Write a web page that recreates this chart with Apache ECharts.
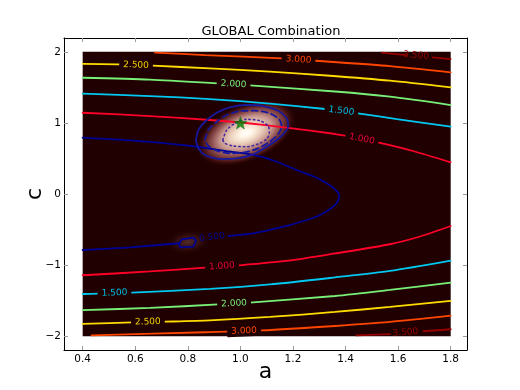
<!DOCTYPE html>
<html><head><meta charset="utf-8">
<script src="https://cdn.jsdelivr.net/npm/echarts@6/dist/echarts.min.js"></script>
<style>html,body{margin:0;padding:0;background:#fff}#c{width:520px;height:390px}</style>
</head><body><div id="c"></div>
<script>
// ---------------- data ----------------
const aTicks = [0.4, 0.6, 0.8, 1.0, 1.2, 1.4, 1.6, 1.8];
const cTicks = [-2, -1, 0, 1, 2];
const imageA = [0.4, 1.8];
const imageC = [-2, 2];

// contour levels, each a polyline of [a, c]
const lvl35TopL = [[1.538,1.99],[1.630,1.955]];
const lvl35TopR = [[1.732,1.923],[1.8,1.899]];
const lvl35BotL = [[1.441,-1.99],[1.569,-1.973]];
const lvl35BotR = [[1.696,-1.931],[1.8,-1.903]];
const lvl30Top = [[0.675,1.99],[0.865,1.955],[1.157,1.909],[1.284,1.875],[1.569,1.800],[1.8,1.712]];
const lvl30Bot = [[0.434,-1.99],[0.865,-1.945],[1.081,-1.920],[1.360,-1.857],[1.569,-1.800],[1.8,-1.712]];
const lvl25Top = [[0.4,1.831],[0.542,1.824],[0.667,1.805],[0.884,1.768],[1.112,1.723],[1.341,1.664],[1.569,1.594],[1.8,1.501]];
const lvl25Bot = [[0.4,-1.826],[0.588,-1.807],[0.713,-1.797],[0.884,-1.779],[1.112,-1.730],[1.360,-1.660],[1.569,-1.589],[1.8,-1.505]];
const lvl20Top = [[0.4,1.636],[0.656,1.610],[0.915,1.557],[1.036,1.529],[1.360,1.442],[1.569,1.369],[1.8,1.252]];
const lvl20Bot = [[0.4,-1.634],[0.656,-1.603],[0.915,-1.554],[1.036,-1.529],[1.360,-1.435],[1.569,-1.350],[1.8,-1.248]];
const lvl15Top = [[0.4,1.411],[0.656,1.378],[0.884,1.336],[1.112,1.273],[1.322,1.196],[1.447,1.135],[1.595,1.055],[1.8,0.947]];
const lvl15Bot = [[0.4,-1.407],[0.458,-1.402],[0.588,-1.388],[0.884,-1.336],[1.112,-1.273],[1.360,-1.174],[1.569,-1.083],[1.8,-0.938]];
const lvl10Top = [[0.4,1.143],[0.656,1.097],[0.884,1.041],[1.002,1.006],[1.189,0.928],[1.360,0.844],[1.398,0.820],[1.527,0.722],[1.656,0.605],[1.8,0.446]];
const lvl10Bot = [[0.4,-1.143],[0.656,-1.090],[0.865,-1.037],[0.998,-1.003],[1.189,-0.935],[1.360,-0.837],[1.569,-0.707],[1.683,-0.598],[1.8,-0.450]];
const lvl05Main = [[0.4,0.792],[0.643,0.736],[0.834,0.665],[0.941,0.605],[1.049,0.549],[1.131,0.464],[1.214,0.338],[1.284,0.239],[1.328,0.150],[1.363,0.056],[1.376,-0.028],[1.366,-0.131],[1.341,-0.211],[1.303,-0.295],[1.246,-0.373],[1.176,-0.450],[1.112,-0.506],[1.049,-0.553],[0.954,-0.591]];
const lvl05Tail = [[0.767,-0.693],[0.580,-0.750],[0.4,-0.788]];
const lvl05Island = [[0.767,-0.693],[0.777,-0.637],[0.821,-0.615],[0.831,-0.657],[0.821,-0.741],[0.770,-0.750],[0.767,-0.693]];

// likelihood blob contours (closed)
const blobOuter = [[0.831,0.760],[0.840,0.900],[0.865,1.017],[0.910,1.143],[0.960,1.219],[1.024,1.252],[1.087,1.238],[1.144,1.172],[1.176,1.065],[1.182,0.947],[1.166,0.854],[1.138,0.760],[1.100,0.665],[1.049,0.558],[0.986,0.502],[0.922,0.492],[0.865,0.549],[0.840,0.643],[0.831,0.760]];
const blobMiddle = [[0.865,0.760],[0.878,0.900],[0.910,1.017],[0.948,1.111],[0.998,1.167],[1.055,1.172],[1.112,1.135],[1.148,1.051],[1.157,0.947],[1.144,0.844],[1.112,0.736],[1.068,0.643],[1.017,0.587],[0.960,0.572],[0.910,0.609],[0.878,0.675],[0.865,0.760]];
const blobInner = [[0.933,0.760],[0.948,0.900],[0.979,0.994],[1.024,1.051],[1.074,1.031],[1.106,0.956],[1.110,0.862],[1.102,0.783],[1.074,0.713],[1.024,0.665],[0.973,0.675],[0.941,0.713],[0.933,0.760]];

// glow peaks
const glowA = [1.021, 0.801];
const glowC = [0.858, -0.675];

// best-fit star
const starPoint = [[1.0, 1.0]];

// contour labels
const labelText = ['3.500','3.500','3.000','3.000','2.500','2.500','2.000','2.000','1.500','1.500','1.000','1.000','0.500'];
const labelA = [1.668,1.628,1.221,1.014,0.603,0.648,0.974,0.976,1.384,0.521,1.462,0.930,0.892];
const labelC = [1.948,-1.948,1.889,-1.927,1.814,-1.800,1.544,-1.540,1.167,-1.392,0.774,-1.017,-0.609];

// ---------------- styles ----------------
const FONT = 'DejaVu Sans';
const BG = '#200000';
const levelColor = {'0.500':'#000096','1.000':'#ff0028','1.500':'#00c8f0','2.000':'#78f078','2.500':'#ffdc00','3.000':'#ff4600','3.500':'#960000'};
const labelColor = {'0.500':'#000096','1.000':'#e8003c','1.500':'#00bce6','2.000':'#78f078','2.500':'#f0d000','3.000':'#ff4600','3.500':'#960000'};
const labelAngle = [-5.3,4.5,-4.2,2.5,-2.4,1.5,-3.6,3.2,-7.4,1.7,-11.6,4,7];
const labelNoBg = {'0.500':true, '3.500':true};
const glowRx = [54, 24], glowRy = [29, 13], glowRot = [23, 5];
const glowStops = [
  [{offset:0,color:'#ffffff'},{offset:0.12,color:'#fff6e8'},{offset:0.3,color:'#ecd2be'},{offset:0.5,color:'#c89890'},{offset:0.68,color:'#8a4a4a'},{offset:0.84,color:'#4a1414'},{offset:1,color:'rgba(32,0,0,0)'}],
  [{offset:0,color:'rgba(85,45,45,0.95)'},{offset:0.5,color:'rgba(60,22,22,0.7)'},{offset:1,color:'rgba(32,0,0,0)'}]
];

const chart = echarts.init(document.getElementById('c'), null, {renderer:'canvas'});

function line(data, color, width, type, z) {
  return {type:'line', data, showSymbol:false, symbol:'none', smooth:0.25, silent:true,
    animation:false, z:z||3, lineStyle:{color, width, type:type||'solid', cap:'round'}};
}
const minusFmt = v => (v < 0 ? '\u2212' + (-v) : String(v));

function axisCommon(extra) {
  return Object.assign({
    type:'value', splitLine:{show:false},
    axisLine:{show:true, onZero:false, lineStyle:{color:'#000', width:1}},
  }, extra);
}

const option = {
  animation:false,
  backgroundColor:'#ffffff',
  title:{text:'GLOBAL Combination', left:266, top:20, textAlign:'center',
    textStyle:{fontFamily:FONT, fontSize:13, fontWeight:'normal', color:'#000'}},
  grid:{left:64, top:38, right:53, bottom:40, containLabel:false, outerBoundsMode:'none'},
  xAxis:[
    axisCommon({position:'bottom', min:0.329, max:1.862,
      name:'a', nameLocation:'middle', nameGap:11, nameMoveOverlap:false,
      nameTextStyle:{fontFamily:FONT, fontSize:22, color:'#000'},
      axisTick:{show:true, inside:true, length:4, customValues:aTicks, lineStyle:{color:'#999'}},
      axisLabel:{show:true, customValues:aTicks, margin:4, formatter:v=>v.toFixed(1),
        fontFamily:FONT, fontSize:10.5, color:'#000'}}),
    axisCommon({position:'top', min:0.329, max:1.862,
      axisTick:{show:true, inside:true, length:4, customValues:aTicks, lineStyle:{color:'#999'}},
      axisLabel:{show:false}})
  ],
  yAxis:[
    axisCommon({position:'left', min:-2.195, max:2.195,
      name:'c', nameLocation:'middle', nameGap:18, nameRotate:90, nameMoveOverlap:false,
      nameTextStyle:{fontFamily:FONT, fontSize:22, color:'#000'},
      axisTick:{show:true, inside:true, length:4, customValues:cTicks, lineStyle:{color:'#999'}},
      axisLabel:{show:true, customValues:cTicks, margin:3, formatter:minusFmt,
        fontFamily:FONT, fontSize:10.5, color:'#000'}}),
    axisCommon({position:'right', min:-2.195, max:2.195,
      axisTick:{show:true, inside:true, length:4, customValues:cTicks, lineStyle:{color:'#999'}},
      axisLabel:{show:false}})
  ],
  series:[
    {type:'custom', z:0, silent:true, data:[[imageA[0], imageC[0]]],
      renderItem:(params, api) => {
        const p0 = api.coord([imageA[0], imageC[1]]);
        const p1 = api.coord([imageA[1], imageC[0]]);
        return {type:'rect', shape:{x:p0[0], y:p0[1], width:p1[0]-p0[0], height:p1[1]-p0[1]}, style:{fill:BG}};
      }},
    {type:'custom', z:1, silent:true, data:glowA.map((a,i)=>[a, glowC[i]]),
      renderItem:(params, api) => {
        const i = params.dataIndex;
        const p = api.coord([api.value(0), api.value(1)]);
        return {type:'circle', x:p[0], y:p[1], rotation:glowRot[i]*Math.PI/180,
          scaleX:glowRx[i]/glowRy[i], scaleY:1,
          shape:{cx:0, cy:0, r:glowRy[i]},
          style:{fill:{type:'radial', x:0.5, y:0.5, r:0.5, colorStops:glowStops[i]}}};
      }},
    line(lvl35TopL, levelColor['3.500'], 1.8),
    line(lvl35TopR, levelColor['3.500'], 1.8),
    line(lvl35BotL, levelColor['3.500'], 1.8),
    line(lvl35BotR, levelColor['3.500'], 1.8),
    line(lvl30Top, levelColor['3.000'], 1.8),
    line(lvl30Bot, levelColor['3.000'], 1.8),
    line(lvl25Top, levelColor['2.500'], 1.8),
    line(lvl25Bot, levelColor['2.500'], 1.8),
    line(lvl20Top, levelColor['2.000'], 1.8),
    line(lvl20Bot, levelColor['2.000'], 1.8),
    line(lvl15Top, levelColor['1.500'], 1.8),
    line(lvl15Bot, levelColor['1.500'], 1.8),
    line(lvl10Top, levelColor['1.000'], 1.8),
    line(lvl10Bot, levelColor['1.000'], 1.8),
    line(lvl05Main, levelColor['0.500'], 1.8),
    line(lvl05Tail, levelColor['0.500'], 1.8),
    Object.assign(line(lvl05Island, levelColor['0.500'], 1.8), {smooth:false}),
    line(blobOuter, '#18189e', 1.8, 'solid', 4),
    line(blobMiddle, '#18189e', 1.8, [6, 4], 4),
    line(blobInner, '#4a2aa0', 1.6, [1.5, 3], 4),
    {type:'custom', z:5, silent:true, data:labelA.map((a,i)=>[a, labelC[i]]),
      renderItem:(params, api) => {
        const i = params.dataIndex;
        const p = api.coord([api.value(0), api.value(1)]);
        const t = labelText[i];
        return {type:'text', x:p[0], y:p[1], rotation:labelAngle[i]*Math.PI/180,
          style:{text:t, fill:labelColor[t], fontFamily:FONT, fontSize:9,
            align:'center', verticalAlign:'middle',
            backgroundColor: labelNoBg[t] ? null : BG, padding:[1,4]}};
      }},
    {type:'scatter', z:6, silent:true, data:starPoint, symbolSize:13,
      symbol:'path://M0,-10 L2.35,-3.24 L9.51,-3.09 L3.8,1.24 L5.88,8.09 L0,4 L-5.88,8.09 L-3.8,1.24 L-9.51,-3.09 L-2.35,-3.24 Z',
      symbolKeepAspect:true, itemStyle:{color:'#008000', borderColor:'#006000', borderWidth:0.5}}
  ]
};
chart.setOption(option);
</script></body></html>
